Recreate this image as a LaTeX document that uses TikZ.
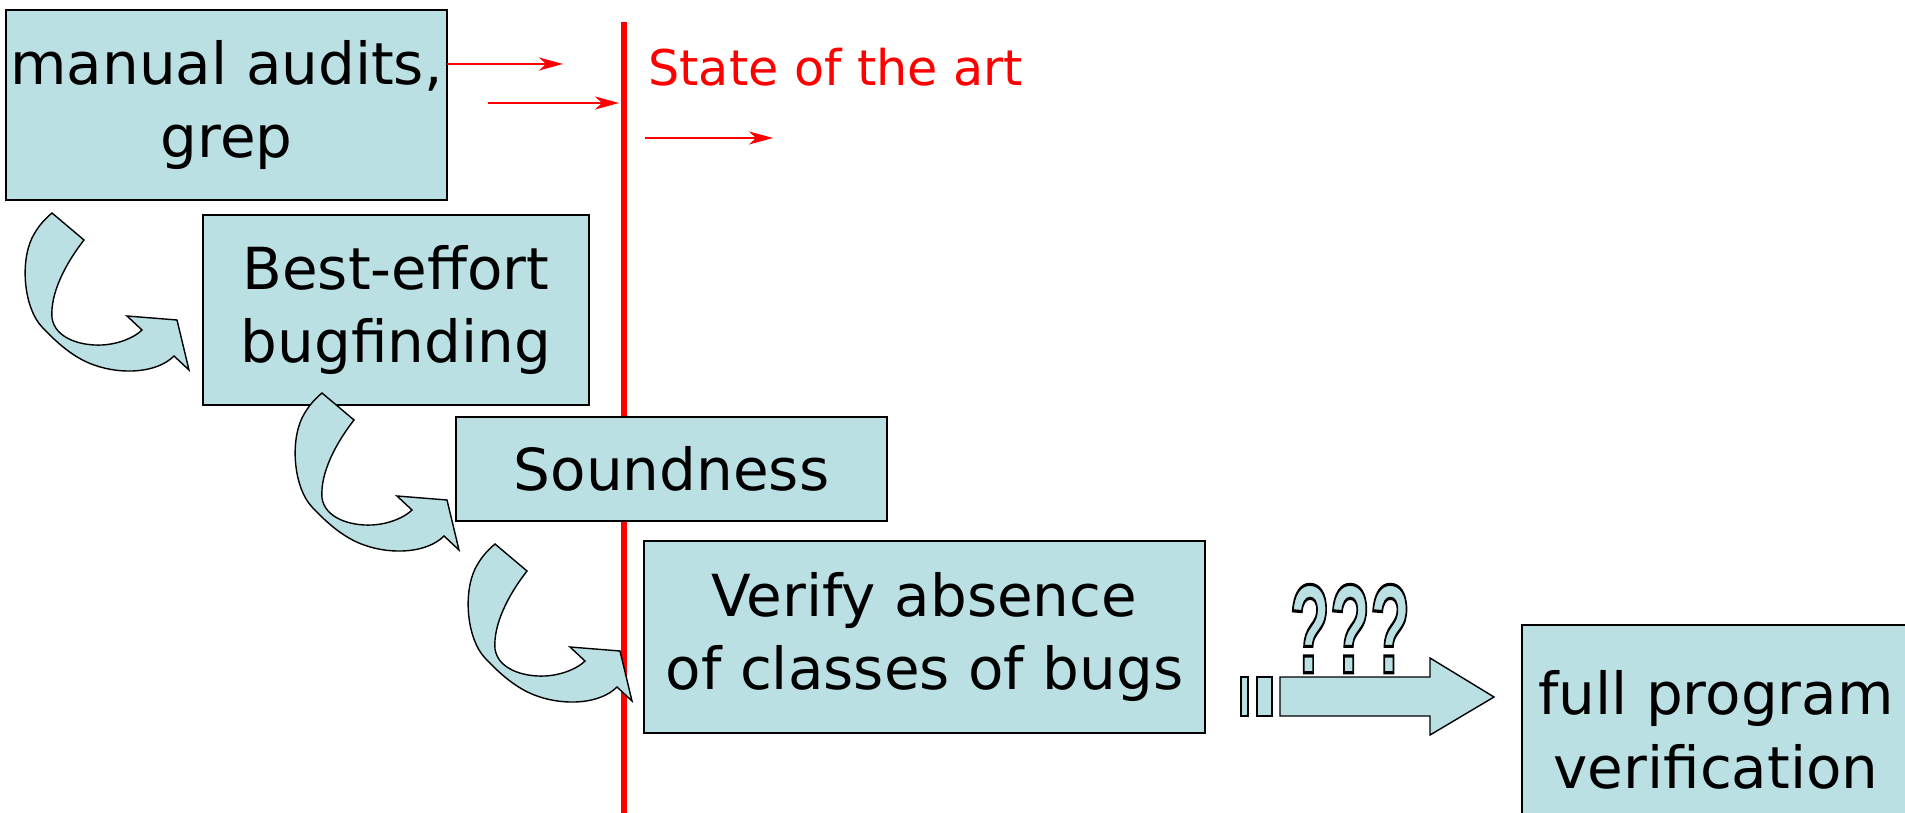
\documentclass[tikz,border=0pt]{standalone}
\usepackage{fontspec}
\setmainfont{DejaVu Sans}
\newfontfamily\qfont{Liberation Sans}
\usetikzlibrary{arrows.meta}
\definecolor{boxblue}{RGB}{187,224,227}
\newcommand\outlineq{\special{pdf:code q 2 Tr 0 G 1.8 w}?\special{pdf:code 0 Tr Q}}
\tikzset{
  stagebox/.style={draw=black, line width=1pt, fill=boxblue, align=center, inner sep=0pt,
    font=\fontsize{33}{42}\selectfont},
  redarrow/.style={red, line width=1.2pt, -{Stealth[length=0.48cm, width=0.26cm, inset=0.14cm]}},
  blockarrow/.style={draw=black, line width=0.8pt, fill=boxblue},
  qmark/.style={inner sep=0pt, text=boxblue, font=\qfont\bfseries\fontsize{72}{72}\selectfont},
  bendarrow/.pic={
    \filldraw[blockarrow] (0,0) -- (32,27)
      .. controls (14,50) and (-2,80) .. (0,105)
      .. controls (3,125) and (28,133) .. (50,132)
      .. controls (68,131) and (83,124) .. (90,117)
      -- (75,103) -- (125,107) -- (137,157) -- (122,143)
      .. controls (105,160) and (70,162) .. (42,152)
      .. controls (22,145) and (5,130) .. (-10,114)
      .. controls (-28,95) and (-32,50) .. (-20,25)
      .. controls (-14,13) and (-7,6) .. (0,0) -- cycle;
  }
}
\begin{document}
\begin{tikzpicture}[x=0.02cm, y=-0.02cm]
  \useasboundingbox (0,0) rectangle (1905,813);
  \clip (0,0) rectangle (1905,813);
  % state of the art line
  \coordinate (lineTop) at (624,22);
  \coordinate (lineBot) at (624,813);
  \draw[red, line width=3.4pt] (lineTop) -- (lineBot);
  \node[red, anchor=west, inner sep=0pt, font=\fontsize{28}{34}\selectfont] (sota) at (648,67) {State of the art};

  % the stages
  \node[stagebox, minimum width=8.82cm, minimum height=3.8cm] (audit) at (226.5,105) {manual audits,\\grep};
  \node[stagebox, minimum width=7.72cm, minimum height=3.8cm] (bestfx) at (396,310) {Best-effort\\bugfinding};
  \node[stagebox, minimum width=8.62cm, minimum height=2.08cm] (sound) at (671.5,469) {Soundness};
  \node[stagebox, minimum width=11.22cm, minimum height=3.84cm] (absence) at (924.5,637) {Verify absence\\of classes of bugs};
  \node[stagebox, minimum width=7.76cm, minimum height=4.2cm] (fullver) at (1716,730) {full program\\verification};

  % red arrows
  \coordinate (ra1s) at (447,64);   \coordinate (ra1e) at (563,64);
  \coordinate (ra2s) at (488,103);  \coordinate (ra2e) at (619,103);
  \coordinate (ra3s) at (645,138);  \coordinate (ra3e) at (773,138);
  \draw[redarrow] (ra1s) -- (ra1e);
  \draw[redarrow] (ra2s) -- (ra2e);
  \draw[redarrow] (ra3s) -- (ra3e);

  % bent arrows between stages
  \pic at (52,213) {bendarrow};
  \pic at (322,393) {bendarrow};
  \pic at (495,544) {bendarrow};

  % ??? arrow
  \filldraw[blockarrow] (1241,677) rectangle (1248,716);
  \filldraw[blockarrow] (1257,677) rectangle (1272,716);
  \filldraw[blockarrow] (1280,677) -- (1430,677) -- (1430,658) -- (1494,697)
    -- (1430,735) -- (1430,716) -- (1280,716) -- cycle;
  \node[qmark] (qmarks) at (1350,628.5) {\scalebox{0.52}[1]{\outlineq\outlineq\outlineq}};
\end{tikzpicture}
\end{document}
